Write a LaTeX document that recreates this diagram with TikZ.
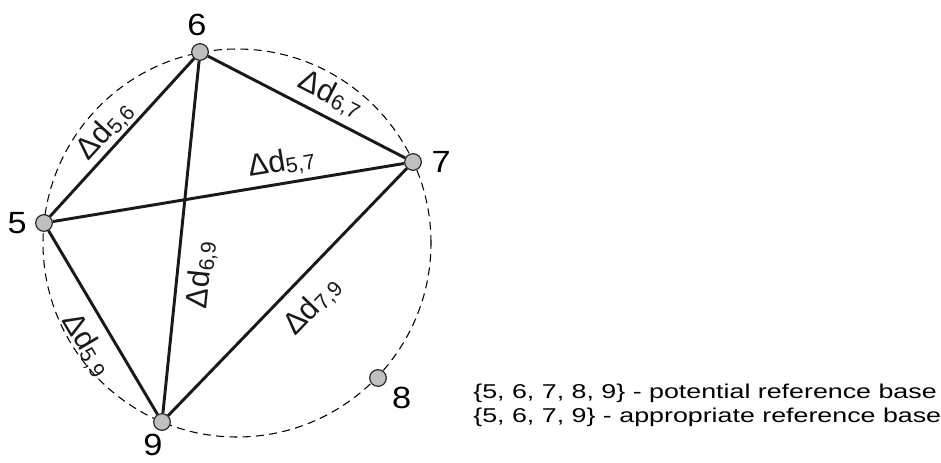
\documentclass[tikz,border=0pt]{standalone}
\usepackage{fontspec}
\setmainfont{Liberation Sans}
\usetikzlibrary{positioning}
\newcommand{\dlen}[1]{Δd\raisebox{-2pt}{\fontsize{16}{16}\selectfont #1}}

\begin{document}
\begin{tikzpicture}[x=0.75pt,y=0.75pt,font=\fontsize{23}{26}\selectfont,
  pt/.style={circle,draw=black!85,line width=0.9pt,fill=black!25,minimum size=12.5pt,inner sep=0pt},
  num/.style={inner sep=1pt,xscale=1.12,transform shape},
  edge/.style={line width=2.2pt,black!90},
  dl/.style={sloped,inner sep=1pt},
  legend/.style={anchor=base west,inner sep=0pt,xscale=1.34,transform shape,font=\fontsize{15}{18}\selectfont}]
\useasboundingbox (0,0) rectangle (941,462);
\coordinate (O) at (237,219);
% reference circle (dashed)
\draw[dashed,line width=0.8pt,dash pattern=on 6pt off 4pt] (O) circle (194);
% points
\node[pt] (p5) at (44,239) {};
\node[pt] (p6) at (200,410) {};
\node[pt] (p7) at (413,300) {};
\node[pt] (p8) at (378,84) {};
\node[pt] (p9) at (162,40) {};
\node[num,left=5pt of p5] (l5) {5};
\node[num,above=4pt of p6,xshift=-2pt] (l6) {6};
\node[num,right=6pt of p7] (l7) {7};
\node[num,below right=0.5pt and 4.5pt of p8] (l8) {8};
\node[num,below=1pt of p9,xshift=-6pt] (l9) {9};
% distances
\draw[edge] (p5) -- node[dl,above=0pt,pos=0.47] {\dlen{5,6}} (p6);
\draw[edge] (p6) -- node[dl,above=4pt,pos=0.57] {\dlen{6,7}} (p7);
\draw[edge] (p5) -- node[dl,above=3pt,pos=0.66] {\dlen{5,7}} (p7);
\draw[edge] (p9) -- node[dl,below=6pt,pos=0.40] {\dlen{6,9}} (p6);
\draw[edge] (p9) -- node[dl,below=9pt,pos=0.52] {\dlen{7,9}} (p7);
\draw[edge] (p5) -- node[dl,below=7pt,pos=0.55] {\dlen{5,9}} (p9);
% legend
\node[legend] (base1) at (473,64) {\{5, 6, 7, 8, 9\} - potential reference base};
\node[legend] (base2) at (473,40) {\{5, 6, 7, 9\} - appropriate reference base};
\end{tikzpicture}
\end{document}
